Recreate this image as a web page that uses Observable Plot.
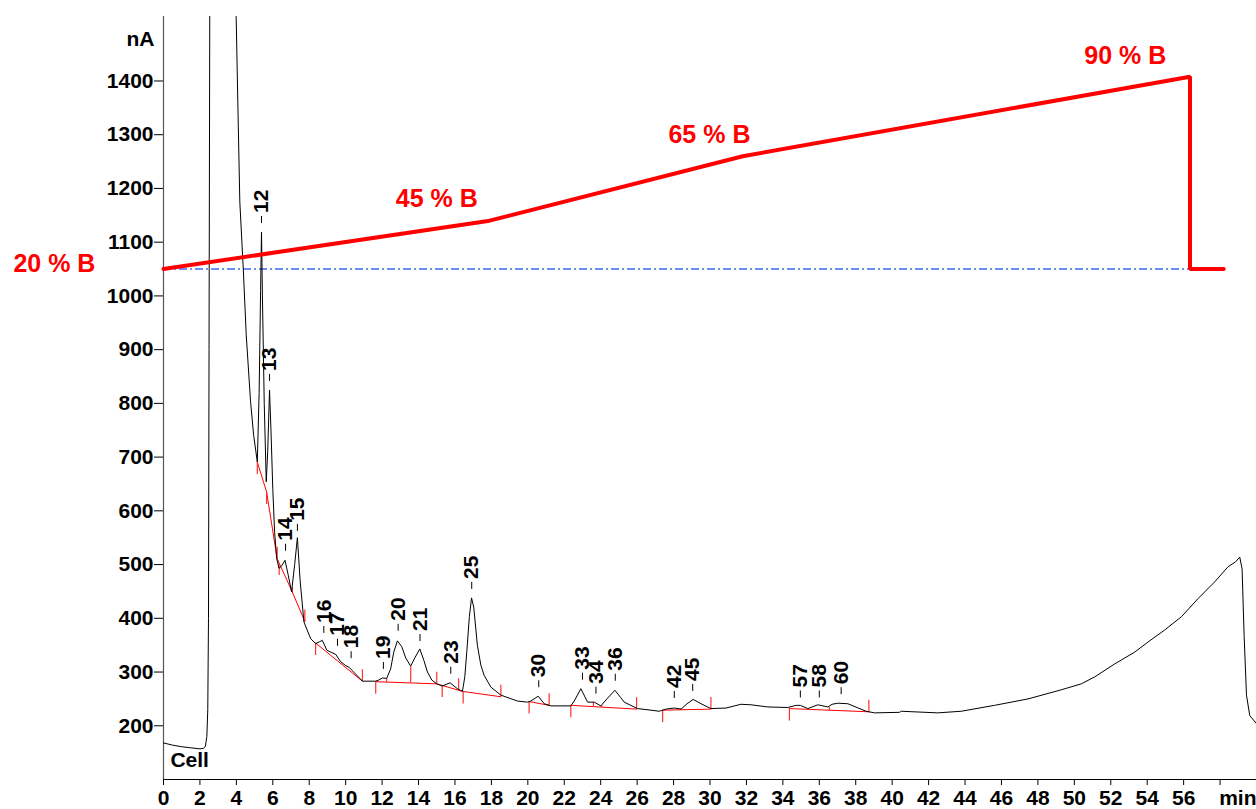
<!DOCTYPE html>
<html><head><meta charset="utf-8">
<script src="https://cdn.jsdelivr.net/npm/d3@7"></script>
<script src="https://cdn.jsdelivr.net/npm/@observablehq/plot@0.6"></script>
<style>
html,body{margin:0;padding:0;background:#fff;}
#chart{width:1256px;height:809px;overflow:hidden;}
</style>
</head><body><div id="chart"></div>
<script>
// ---- data ----
const xDomain = [0, 60];
const yDomain = [100, 1520];
const xTickValues = [0,2,4,6,8,10,12,14,16,18,20,22,24,26,28,30,32,34,36,38,40,42,44,46,48,50,52,54,56,58,60];
const xTickUnlabelled = [58, 60];
const yTickValues = [200,300,400,500,600,700,800,900,1000,1100,1200,1300,1400];
const xUnit = "min";
const yUnit = "nA";
const cellLabel = "Cell";

// chromatogram (time in min, signal in nA)
const timeMin = [0,0.5,1.0,1.5,2.0,2.2,2.3,2.38,2.43,2.47,2.5,2.55,3.2,3.9,3.99,4.08,4.19,4.38,4.54,4.78,4.95,5.15,5.25,5.33,5.38,5.43,5.53,5.64,5.72,5.82,5.9,6.0,6.1,6.21,6.34,6.5,6.67,6.85,7.03,7.2,7.35,7.5,7.71,8.08,8.35,8.55,8.72,8.96,9.18,9.45,9.73,10.0,10.18,10.44,10.92,11.65,11.81,12.02,12.25,12.47,12.64,12.84,13.08,13.3,13.57,13.79,14.07,14.29,14.49,14.73,15.0,15.31,15.73,16.13,16.41,16.54,16.65,16.79,16.91,17.03,17.23,17.42,17.6,17.97,18.52,19.43,19.98,20.16,20.57,20.9,21.26,22.36,22.58,22.91,23.28,23.64,24.01,24.34,24.78,25.11,25.29,26.02,26.76,27.21,27.58,28.04,28.41,28.74,29.08,29.51,30.05,30.88,31.7,32.25,33.17,34.27,34.73,34.96,35.37,35.92,36.47,36.7,37.02,37.57,38.57,39.03,40.4,40.5,42.5,43.79,45.62,47.46,49.29,50.38,51.12,52.21,53.31,54.05,54.95,55.88,56.8,57.71,58.44,58.85,59.08,59.21,59.32,59.45,59.63,60];
const signalNA = [168,164,161,159,157,158,162,180,230,400,900,1700,2600,1650,1518,1361,1175,1050,928,803,740,691,820,1010,1119,1000,800,654,710,825,750,640,560,512,493,498,508,480,449,500,550,470,393,362,353,356,359,341,337,333,319,312,309,300,283,283,285,289,288,306,337,358,347,326,311,326,343,322,300,285,278,274,280,269,264,291,338,403,438,421,350,313,294,272,257,246,244,246,255,241,237,237,248,269,244,244,237,250,266,252,244,232,229,227,231,233,231,241,249,241,232,233,240,239,235,234,238,238,232,239,235,240,242,241,227,224,225,227,224,227,238,250,267,278,291,315,337,356,378,403,437,468,496,505,514,492,368,257,219,204];

// integration baselines
const baseSegment = ["A","A","A","A","A","B","B","C","C","C","C","E","E","F","F","G","G","H","H"];
const baseTime    = [5.15,5.66,6.24,7.07,7.76, 8.35,10.92, 11.65,15.0,16.41,18.52, 20.07,21.17, 22.36,25.97, 27.4,30.05, 34.36,38.72];
const baseNA      = [691,635,511,449,394, 354,283, 282,278,264,254, 245,238, 238,231, 229,231, 232,226];
// peak start markers / peak end markers
const startTime = [5.15,5.66,6.35,8.35,11.65,15.3,16.45,20.07,22.36,27.4,34.36];
const startNA   = [691,635,503,354,282,276,264,245,238,229,232];
const endTime   = [6.24,7.76,10.92,15.0,16.2,18.52,21.17,25.97,30.05,38.72];
const endNA     = [511,394,283,278,266,254,238,231,231,226];
// valley drop lines (baseline -> curve)
const dropTime  = [7.07,12.25,13.57,23.6,24.05,28.37,36.55];
const dropBase  = [449,282,280,236,235,230,229];
const dropCurve = [458,288,311,244,238,232,235];

// peak labels
const peakLabel = ["12","13","14","15","16","17","18","19","20","21","23","25","30","33","34","36","42","45","57","58","60"];
const peakTime  = [5.38,5.82,6.7,7.35,8.8,9.55,10.3,12.07,12.88,14.08,15.77,16.92,20.6,23.0,23.74,24.8,28.04,29.05,34.96,36.0,37.2];
const peakNA    = [1119,825,509,546,356,332,309,289,360,341,280,438,255,269,243,267,235,248,236,236,242];

// gradient (% B) trace
const gradTime = [0,17.9,31.8,56.35,56.35,58.2];
const gradNA   = [1050,1140,1260,1408,1050,1050];
const startLabel = ["20 % B"];
const startLabelTime = [-3.74];
const startLabelNA = [1060];
const gradLabel     = ["45 % B","65 % B","90 % B"];
const gradLabelTime = [15.0,29.97,52.8];
const gradLabelNA   = [1180,1300,1447];
const refLevel = [1050];
const refFrom = [0];
const refTo = [56.35];

// ---- tables ----
const curve = timeMin.map((t,i)=>({t, v: signalNA[i]}));
const base = baseTime.map((t,i)=>({t, v: baseNA[i], s: baseSegment[i]}));
const starts = startTime.map((t,i)=>({t, v: startNA[i]}));
const ends = endTime.map((t,i)=>({t, v: endNA[i]}));
const drops = dropTime.map((t,i)=>({t, b: dropBase[i], c: dropCurve[i]}));
const peaks = peakLabel.map((s,i)=>({s, t: peakTime[i], v: peakNA[i]}));
const grad = gradTime.map((t,i)=>({t, v: gradNA[i]}));
const gradLabels = gradLabel.map((s,i)=>({s, t: gradLabelTime[i], v: gradLabelNA[i]}));
const startLabels = startLabel.map((s,i)=>({s, t: startLabelTime[i], v: startLabelNA[i]}));
const refRows = refLevel.map((v,i)=>({v, x1: refFrom[i], x2: refTo[i]}));

const lineUp = {draw(ctx, size){ const r = Math.sqrt(size/Math.PI); ctx.moveTo(0,0); ctx.lineTo(0,-r); }};
const lineDown = {draw(ctx, size){ const r = Math.sqrt(size/Math.PI); ctx.moveTo(0,0); ctx.lineTo(0,r); }};

const font = "'Liberation Sans', Arial, Helvetica, sans-serif";

const chart = Plot.plot({
  width: 1256, height: 809,
  marginTop: 16, marginRight: 0, marginBottom: 30, marginLeft: 163,
  style: {fontFamily: font, fontSize: "21px", fontWeight: "bold", background: "#fff", color: "#000", overflow: "visible"},
  x: {domain: xDomain, ticks: xTickValues, tickSize: 6, tickPadding: 5, tickFormat: d => xTickUnlabelled.includes(d) ? "" : String(d), label: null},
  y: {domain: yDomain, ticks: yTickValues, tickSize: 9, tickPadding: 1, tickFormat: d => String(d), label: null},
  marks: [
    Plot.ruleX([xDomain[0]], {stroke: "#555", strokeWidth: 1.2}),
    Plot.ruleY([yDomain[0]], {stroke: "#000", strokeWidth: 1.2}),
    Plot.ruleY(refRows, {y: "v", x1: "x1", x2: "x2", stroke: "#3f6bff", strokeWidth: 1.5, strokeDasharray: "8,3,2,3"}),
    Plot.line(base, {x: "t", y: "v", z: "s", stroke: "#ff0000", strokeWidth: 1}),
    Plot.dot(starts, {x: "t", y: "v", symbol: lineDown, r: 12, stroke: "#ff3030", fill: "none", strokeWidth: 1.2}),
    Plot.dot(ends, {x: "t", y: "v", symbol: lineUp, r: 12, stroke: "#ff3030", fill: "none", strokeWidth: 1.2}),
    Plot.link(drops, {x1: "t", x2: "t", y1: "b", y2: "c", stroke: "#ff3030", strokeWidth: 1.2}),
    Plot.line(curve, {x: "t", y: "v", stroke: "#000", strokeWidth: 1, clip: true}),
    Plot.line(grad, {x: "t", y: "v", stroke: "#ff0000", strokeWidth: 4, strokeLinejoin: "miter"}),
    Plot.dot(peaks, {x: "t", y: "v", symbol: lineUp, r: 7, dy: -9, stroke: "#000", fill: "none", strokeWidth: 1}),
    Plot.text(peaks, {x: "t", y: "v", text: "s", rotate: -90, textAnchor: "start", dy: -19, fontSize: 21, fontWeight: "bold", fill: "#000"}),
    Plot.text(gradLabels, {x: "t", y: "v", text: "s", textAnchor: "middle", fontSize: 25, fontWeight: "bold", fill: "#ff0000"}),
    Plot.text(startLabels, {x: "t", y: "v", text: "s", textAnchor: "end", fontSize: 25, fontWeight: "bold", fill: "#ff0000"}),
    Plot.text([{t: xDomain[0], v: 1478, s: yUnit}], {x: "t", y: "v", text: "s", textAnchor: "end", dx: -9, fontSize: 21, fontWeight: "bold"}),
    Plot.text([{t: 0.38, v: 136, s: cellLabel}], {x: "t", y: "v", text: "s", textAnchor: "start", fontSize: 21, fontWeight: "bold"}),
    Plot.text([{t: xDomain[1], v: yDomain[0], s: xUnit}], {x: "t", y: "v", text: "s", textAnchor: "end", lineAnchor: "top", dy: 11, fontSize: 21, fontWeight: "bold"})
  ]
});
document.getElementById("chart").appendChild(chart);
</script></body></html>
